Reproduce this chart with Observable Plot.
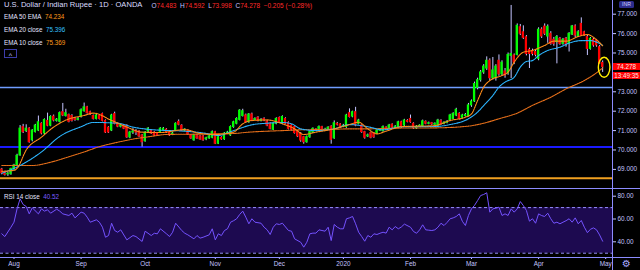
<!DOCTYPE html>
<html><head><meta charset="utf-8">
<script src="https://cdn.jsdelivr.net/npm/d3@7"></script>
<script src="https://cdn.jsdelivr.net/npm/@observablehq/plot@0.6"></script>
<style>
body{margin:0;background:#000;}
#wrap{position:relative;width:640px;height:270px;overflow:hidden;background:#000;font-family:"Liberation Sans",Arial,sans-serif;}
.abs{position:absolute;white-space:nowrap;}
.pl{position:absolute;left:0;}
</style></head><body><div id="wrap"></div>
<script>
// ---- OHLC (daily bars, index 0 = 26 Jul 2019 ... 197 = 30 Apr 2020) ----
const open = [68.99,68.85,68.74,68.75,69.00,69.20,69.72,71.18,70.98,71.10,
70.50,70.92,71.00,71.35,70.85,71.50,71.25,71.72,71.50,71.45,
71.95,71.75,71.80,71.75,71.60,71.55,71.70,72.00,72.20,71.95,
71.75,71.60,71.75,71.85,71.50,71.15,71.00,71.85,71.35,71.20,
71.25,71.25,70.65,70.90,70.95,70.95,70.75,70.45,70.95,71.00,
70.90,70.85,70.90,71.00,71.05,70.90,70.80,71.00,71.45,71.25,
71.00,71.00,70.75,70.50,70.75,70.70,70.70,70.55,70.60,70.63,
70.92,70.32,70.62,70.55,70.85,70.75,71.18,71.35,71.55,71.75,
71.78,71.43,71.83,71.55,71.66,71.50,71.60,71.47,71.35,71.04,
71.35,71.65,71.35,71.60,71.40,71.26,71.18,70.95,70.84,70.66,
70.40,70.66,70.90,71.05,71.00,71.18,71.00,71.05,71.20,70.60,
71.35,71.32,71.20,71.18,71.90,71.72,71.95,71.35,71.26,70.92,
70.70,70.87,70.85,70.84,71.00,70.97,71.15,71.10,71.30,71.15,
71.18,71.43,71.26,71.50,71.60,71.35,71.12,71.22,71.21,71.45,
71.35,71.38,71.30,71.26,71.50,71.35,71.40,71.52,71.60,71.78,
71.86,71.66,71.75,71.75,72.30,72.50,73.20,73.60,74.00,74.20,
74.60,73.70,73.70,74.60,73.90,74.05,73.95,74.85,74.87,74.90,
76.33,76.07,75.81,75.16,75.10,75.05,74.70,76.20,76.36,75.85,
75.99,75.68,75.56,75.73,75.47,75.73,75.47,75.95,76.37,75.85,
76.50,76.07,75.82,75.21,75.68,75.65,75.30,74.483];
const high = [69.05,68.90,68.84,69.06,69.26,69.78,71.26,71.32,71.30,71.15,
71.05,71.32,71.75,71.40,71.60,71.90,71.76,71.80,71.62,71.96,
72.40,72.10,71.85,71.82,71.66,71.68,72.12,72.42,72.25,72.00,
71.80,71.84,71.80,71.90,71.55,71.20,71.84,71.95,71.40,71.32,
71.30,71.30,70.96,71.10,71.05,71.00,70.80,70.95,71.16,71.05,
70.95,70.90,71.15,71.16,71.10,70.95,70.92,71.40,71.55,71.30,
71.10,71.05,70.80,70.80,70.80,70.75,70.75,70.66,70.75,70.98,
70.96,70.72,70.68,70.90,70.96,71.24,71.48,71.66,72.08,72.10,
71.85,71.88,71.90,71.66,71.72,71.62,71.66,71.52,71.40,71.40,
71.66,71.70,71.76,71.66,71.45,71.30,71.22,71.00,70.90,70.70,
70.72,70.98,71.14,71.10,71.24,71.22,71.12,71.20,71.25,71.50,
71.42,71.36,71.32,71.84,72.12,72.00,72.20,71.58,71.30,70.96,
70.82,70.92,70.90,71.05,71.10,71.24,71.20,71.32,71.35,71.26,
71.48,71.48,71.58,71.56,71.80,71.40,71.26,71.30,71.54,71.50,
71.44,71.42,71.40,71.58,71.56,71.46,71.52,71.84,71.92,72.15,
71.92,71.84,71.88,72.40,72.58,73.50,73.70,74.10,74.40,74.80,
74.70,74.77,74.40,74.90,74.60,74.20,75.00,77.45,74.95,76.50,
76.47,76.40,75.90,75.25,75.20,75.15,76.30,76.30,76.50,76.45,
76.10,75.80,75.90,75.80,75.75,75.80,76.05,76.42,76.45,76.15,
76.81,76.12,75.90,75.80,75.75,75.70,75.38,74.592];
const low = [68.72,68.66,68.64,68.70,68.95,69.15,69.68,70.85,70.90,70.35,
70.42,70.88,70.95,70.78,70.80,71.20,71.20,71.45,71.44,71.40,
71.72,71.70,71.40,71.44,71.48,71.50,71.65,71.95,71.85,71.78,
71.55,71.55,71.55,71.45,70.85,70.85,70.95,71.30,71.15,71.14,
71.05,70.60,70.58,70.80,70.75,70.65,70.15,70.40,70.90,70.80,
70.70,70.70,70.85,70.95,70.85,70.70,70.74,70.95,71.25,70.95,
70.95,70.75,70.55,70.45,70.55,70.50,70.45,70.48,70.55,70.58,
70.28,70.28,70.50,70.50,70.80,70.70,71.12,71.30,71.50,71.70,
71.38,71.38,71.46,71.50,71.45,71.45,71.46,71.20,71.04,71.00,
71.30,71.38,71.30,71.30,71.04,70.98,70.82,70.64,70.40,70.30,
70.35,70.60,70.85,70.95,70.95,70.93,70.95,71.00,70.30,70.55,
71.24,71.12,71.15,71.12,71.65,71.66,71.20,71.30,70.86,70.56,
70.64,70.58,70.60,70.80,70.95,70.92,71.05,71.05,71.10,71.10,
71.12,71.12,71.20,71.40,71.38,71.06,71.06,71.16,71.16,71.30,
71.30,71.26,71.25,71.20,71.28,71.30,71.35,71.46,71.55,71.72,
71.55,71.60,71.70,71.70,72.20,72.45,73.10,73.50,73.90,74.10,
73.55,73.60,73.55,73.80,73.80,73.70,73.85,73.68,74.40,74.85,
75.90,75.70,74.85,74.20,74.85,74.80,74.60,75.75,75.90,75.50,
75.40,75.35,74.44,75.40,75.40,75.30,75.05,75.90,75.80,75.80,
75.85,75.85,74.87,75.15,75.30,75.30,74.40,73.998];
const close = [68.80,68.72,68.78,69.02,69.20,69.70,71.10,70.92,71.10,70.40,
71.00,71.26,71.43,70.85,71.55,71.25,71.70,71.52,71.56,71.90,
71.78,71.90,71.45,71.50,71.55,71.60,72.05,72.20,71.90,71.83,
71.60,71.78,71.60,71.50,70.90,70.90,71.78,71.35,71.20,71.25,
71.10,70.65,70.90,70.95,70.90,70.70,70.40,70.90,71.10,70.85,
70.75,70.75,71.10,71.10,70.90,70.75,70.85,71.35,71.30,71.00,
71.05,70.80,70.60,70.75,70.60,70.55,70.50,70.60,70.70,70.92,
70.32,70.66,70.55,70.85,70.90,71.18,71.43,71.60,72.03,72.00,
71.43,71.83,71.52,71.60,71.50,71.55,71.52,71.26,71.09,71.35,
71.60,71.43,71.70,71.35,71.09,71.04,70.87,70.70,70.49,70.40,
70.66,70.92,71.09,71.00,71.18,70.98,71.05,71.15,70.52,71.38,
71.30,71.18,71.25,71.78,71.70,71.95,71.26,71.52,70.92,70.63,
70.75,70.63,70.66,71.00,71.05,71.18,71.10,71.26,71.15,71.20,
71.43,71.18,71.52,71.45,71.43,71.12,71.20,71.25,71.48,71.35,
71.38,71.32,71.35,71.52,71.33,71.40,71.45,71.78,71.86,72.07,
71.60,71.78,71.80,72.30,72.50,73.40,73.60,74.00,74.30,74.60,
73.70,74.10,74.30,73.90,74.50,73.84,74.90,74.95,74.51,76.40,
75.99,75.78,74.95,74.95,74.95,74.90,76.20,75.85,75.99,76.35,
75.47,75.47,75.82,75.47,75.68,75.47,75.99,76.37,75.90,76.07,
75.90,75.90,75.21,75.73,75.39,75.39,74.44,74.278];

// ---- moving averages (bar index, value) ----
const ema50Bar = [0,10,16,21,27,32,38,43,49,54,65,76,81,87,92,98,103,109,114,120,131,142,153,158,163,169,174,180,185,191,196,197];
const ema50Val = [69.2,69.2,69.37,69.6,69.9,70.17,70.4,70.56,70.7,70.8,70.82,70.85,70.92,70.97,71.0,71.04,71.05,71.07,71.09,71.09,71.13,71.14,71.23,71.38,71.61,71.9,72.3,72.72,73.15,73.58,74.1,74.234];
const ema20Bar = [0,6,13,19,26,30,38,43,49,60,66,71,76,82,87,92,95,98,103,109,114,120,125,131,142,147,153,156,158,161,163,165,168,170,172,174,176,179,183,186,190,193,195,197];
const ema20Val = [68.8,69.2,69.9,70.7,71.2,71.42,71.38,71.18,71.05,70.97,70.88,70.75,71.0,71.3,71.38,71.42,71.35,71.09,71.0,71.09,71.31,71.2,71.04,71.2,71.21,71.31,71.61,71.95,72.29,72.81,73.24,73.5,73.75,74.27,74.56,74.61,74.87,75.13,75.3,75.51,75.64,75.64,75.56,75.396];
const ema10Bar = [0,4,5,8,13,17,22,27,30,36,41,46,52,60,65,70,76,79,82,87,92,96,99,103,109,113,117,120,123,126,131,142,147,152,154,156,158,160,164,166,168,171,174,178,181,185,189,192,195,197];
const ema10Val = [68.9,68.95,69.05,70.0,70.66,71.18,71.6,71.78,71.9,71.52,71.18,70.92,70.9,71.05,70.85,70.8,70.92,71.35,71.52,71.55,71.35,71.09,70.8,70.92,71.09,71.26,71.43,71.09,70.83,70.97,71.2,71.26,71.52,71.69,71.86,72.55,73.24,73.58,73.84,74.01,74.53,75.04,75.13,75.39,75.61,75.61,75.85,75.95,75.68,75.369];

// ---- RSI 14 (bar index, value) ----
const rsiBar = [0,1,3,4,5,6,7,8,9,10,12,13,14,15,16,18,19,20,22,23,24,26,27,28,29,31,32,33,34,35,
36,37,38,39,41,43,44,46,47,49,50,51,52,54,55,56,57,59,60,61,63,64,65,66,68,69,70,71,72,73,
74,75,76,77,78,79,80,81,82,83,85,86,87,88,89,90,91,92,94,95,96,98,99,100,101,102,103,104,106,107,
108,109,110,111,112,113,114,115,116,117,118,119,120,121,122,123,124,125,126,127,128,129,130,131,132,134,135,136,137,138,
139,140,141,142,143,144,145,146,147,148,149,150,151,152,153,154,155,156,157,158,159,160,161,162,163,164,165,166,167,168,
169,170,171,172,173,174,175,176,177,178,179,180,181,182,183,184,185,186,187,188,189,190,191,192,193,194,195,196,197];
const rsiVal = [47,44.6,52.8,57.2,68.9,77.7,72.7,71,64.5,69.8,64.5,68.9,66.9,68.1,65.1,68.6,66.9,64.5,63.1,65.1,61,66,65.1,61.6,57.2,59.3,57.2,52.8,44,45.5,
56.3,49.9,48.4,50.5,41.7,45.5,44.6,40.3,49.3,45.5,47.5,47,51.4,47,44.6,48.4,56.3,49.9,47.5,46.1,42.6,45.5,43.2,44,46.1,51.4,41.7,47,45.5,49.9,
51.4,57.2,58.5,60.2,64,66.9,61.6,55.8,60.2,57.2,56.3,52.8,50.5,46.4,52.8,55.8,55.2,56.3,49.9,49.3,42.6,39.6,35.3,39.6,47,47.6,47.6,50.5,49.3,52.8,
41.1,55.2,52.8,51.4,51.4,60.2,61,62.2,55.8,48.4,44.6,40.5,45.5,44,47,46.4,47.5,48.4,47.6,52.8,50.5,53.4,51.4,53,55.5,52.8,49,47.5,50.5,54.9,
50.5,50.2,49.9,50.5,52.8,56.3,54.3,57,60.2,61,62.2,64.5,58,54.3,63.1,68.9,72,76.2,80.6,81.5,83,66,68.9,69.5,70.4,63.1,64.5,63.1,68.9,66,
68.9,75.3,71.8,67.5,58.1,60.2,56.3,64.5,63,62.2,65.1,60.2,56.3,57.2,55.8,57.2,58.5,60.2,57.2,61,55.8,58.7,52.8,48,51,52.2,50.5,46,40.52];

// ---- axes, levels, labels ----
const priceTicks = [69,70,71,72,73,75,76,77];
const rsiTicks = [40,60,80];
const rsiBands = [30,70];
const monthBars = [4,26,47,70,91,112,134,154,176,198];
const monthLabels = ["Aug","Sep","Oct","Nov","Dec","2020","Feb","Mar","Apr","May"];
const levelPrices = [73.22,70.16,68.54];
const levelColors = ["#6f9dff","#1a1aff","#f0a020"];
const levelWidths = [1.4,2,2];
const annoBar = 197.65, annoPrice = 74.24;
const header = {title:"U.S. Dollar / Indian Rupee · 1D · OANDA", O:"74.483", H:"74.592", L:"73.998", C:"74.278", chg:"−0.205 (−0.28%)"};
const legendNames = ["EMA 50 EMA","EMA 20 close","EMA 10 close"];
const legendVals = ["74.234","75.396","75.369"];
const legendColors = ["#ff9a1a","#35c0ff","#ff9a1a"];

const LAV = "#c4c4ff";
const FONT = "Liberation Sans, Arial, sans-serif";
const bars = close.map((c,i)=>({i, o:open[i], h:high[i], l:low[i], c}));
const up = bars.filter(d=>d.c>=d.o), down = bars.filter(d=>d.c<d.o);
const pts = (b,v)=>b.map((x,k)=>({i:x, v:v[k]}));
const hb = 0.37;
const xDom = [-0.426, 200.23];

const wrap = document.getElementById("wrap");

const main = Plot.plot({
  width:640, height:188, marginTop:0, marginRight:28, marginBottom:0, marginLeft:0,
  style:{background:"#000", color:LAV, fontFamily:FONT, fontSize:"6.4px"},
  x:{domain:xDom, axis:null},
  y:{domain:[68.015,77.706]},
  marks:[
    ...levelPrices.map((p,k)=>Plot.ruleY([p],{stroke:levelColors[k], strokeWidth:levelWidths[k]})),
    Plot.ruleX(bars,{x:"i", y1:"l", y2:"h", stroke:LAV, strokeWidth:1}),
    Plot.rect(up,{x1:d=>d.i-hb, x2:d=>d.i+hb, y1:"o", y2:"c", fill:"#00ff00", insetTop:-0.5, insetBottom:-0.5}),
    Plot.rect(down,{x1:d=>d.i-hb, x2:d=>d.i+hb, y1:"o", y2:"c", fill:"#ff0000", insetTop:-0.5, insetBottom:-0.5}),
    Plot.line(pts(ema50Bar,ema50Val),{x:"i", y:"v", stroke:"#e8701a", strokeWidth:1.1, strokeDasharray:"1.6,0.9", curve:"monotone-x"}),
    Plot.line(pts(ema20Bar,ema20Val),{x:"i", y:"v", stroke:"#2cb5ff", strokeWidth:1.1, strokeDasharray:"1.6,0.9", curve:"monotone-x"}),
    Plot.line(pts(ema10Bar,ema10Val),{x:"i", y:"v", stroke:"#ff8c1a", strokeWidth:1.1, strokeDasharray:"1.6,0.9", curve:"monotone-x"}),
    Plot.axisY({anchor:"right", ticks:priceTicks, tickFormat:d3.format(".3f"), tickSize:3, tickPadding:2, label:null, color:LAV})
  ]
});
main.classList.add("pl"); main.style.top = "0px";
wrap.appendChild(main);

const sx = main.scale("x"), sy = main.scale("y");
d3.select(main).append("ellipse")
  .attr("cx", sx.apply(annoBar)).attr("cy", sy.apply(annoPrice))
  .attr("rx", 5.8).attr("ry", 10)
  .attr("fill","none").attr("stroke","#ffee00").attr("stroke-width",1.4);

const rsiPlot = Plot.plot({
  width:640, height:81, marginTop:0, marginRight:28, marginBottom:13, marginLeft:0,
  style:{background:"#000", color:LAV, fontFamily:FONT, fontSize:"6.4px"},
  x:{domain:xDom},
  y:{domain:[26.23,85.88]},
  marks:[
    Plot.rect([rsiBands],{x1:()=>xDom[0], x2:()=>xDom[1], y1:d=>d[0], y2:d=>d[1], fill:"#1d0a50"}),
    Plot.ruleY(rsiBands,{stroke:"#9a90ff", strokeDasharray:"3,2.5", strokeWidth:1}),
    Plot.line(pts(rsiBar,rsiVal),{x:"i", y:"v", stroke:"#7452ff", strokeWidth:1}),
    Plot.axisY({anchor:"right", ticks:rsiTicks, tickFormat:d3.format(".2f"), tickSize:3, tickPadding:2, label:null, color:LAV}),
    Plot.axisX({ticks:monthBars, tickFormat:d=>monthLabels[monthBars.indexOf(d)], tickSize:2, tickPadding:2, label:null, color:LAV})
  ]
});
rsiPlot.classList.add("pl"); rsiPlot.style.top = "189px";
wrap.appendChild(rsiPlot);

function add(html, css){ const e=document.createElement("div"); e.className="abs"; e.innerHTML=html; Object.assign(e.style, css); wrap.appendChild(e); return e; }
// panel lines
add("",{left:"0px",top:"188px",width:"640px",height:"1px",background:"#8c8cff"});
add("",{left:"0px",top:"257px",width:"640px",height:"1px",background:"#8c8cff"});
add("",{left:"612px",top:"0px",width:"1px",height:"270px",background:"#8c8cff"});

// header
add(header.title,{left:"4px",top:"0px",fontSize:"7.6px",lineHeight:"10px",color:"#dcdcff"});
const red="#ff2a2a";
add(`<span style="color:${LAV}">O</span><span style="color:${red}">${header.O}</span>&nbsp; <span style="color:${LAV}">H</span><span style="color:${red}">${header.H}</span>&nbsp; <span style="color:${LAV}">L</span><span style="color:${red}">${header.L}</span>&nbsp; <span style="color:${LAV}">C</span><span style="color:${red}">${header.C}</span>&nbsp; <span style="color:${red}">${header.chg}</span>`,
  {left:"151.5px",top:"0.5px",fontSize:"6.5px",lineHeight:"10px"});
// legend
[12.3,24.9,37.6].forEach((t,k)=>{
  add(`<span style="color:#e4e4ff">${legendNames[k]}</span>&nbsp; <span style="color:${legendColors[k]}">${legendVals[k]}</span>`,
    {left:"4px",top:t+"px",fontSize:"6.3px",lineHeight:"9px"});
});
add("^",{left:"4px",top:"49px",width:"13px",height:"9px",border:"1px solid #3c3ca8",color:LAV,fontSize:"7px",lineHeight:"11px",textAlign:"center",boxSizing:"border-box"});
// INR box
add("INR",{left:"619px",top:"1px",width:"15px",height:"7px",background:"#2c2c8c",borderRadius:"1.5px",color:"#d0d0ff",fontSize:"5.2px",lineHeight:"7px",textAlign:"center"});
// price tags
const py = sy.apply(close[close.length-1]);
add(header.C,{left:"613px",top:(py-3.6)+"px",width:"27px",height:"7.6px",background:"#ff0000",color:"#ffe8e8",fontSize:"6.3px",lineHeight:"7.6px",textAlign:"center"});
add("13:49:35",{left:"613px",top:(py+5)+"px",width:"27px",height:"7.6px",background:"#ff0000",color:"#ffe8e8",fontSize:"6.3px",lineHeight:"7.6px",textAlign:"center"});
// RSI legend
add(`<span style="color:#e4e4ff">RSI 14 close</span>&nbsp; <span style="color:#7a5cff">${rsiVal[rsiVal.length-1].toFixed(2)}</span>`,
  {left:"4px",top:"192px",fontSize:"6.3px",lineHeight:"9px"});
// gear
add("⚙",{left:"622px",top:"258px",fontSize:"10px",lineHeight:"11px",color:"#a8a8ff",fontFamily:"DejaVu Sans"});
</script>
</body></html>
